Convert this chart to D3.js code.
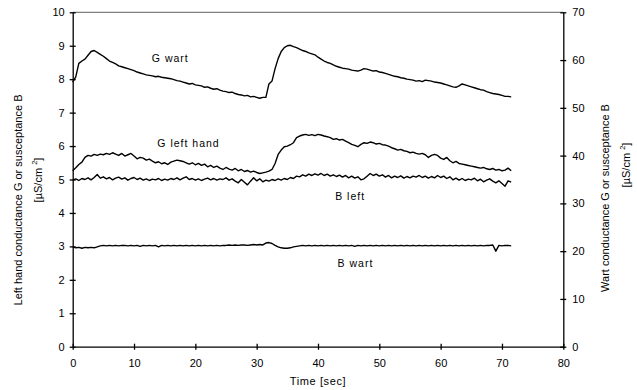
<!DOCTYPE html>
<html>
<head>
<meta charset="utf-8">
<script src="https://cdn.jsdelivr.net/npm/d3@7"></script>
<style>
  html, body { margin: 0; padding: 0; background: #fff; }
  svg { display: block; font-family: "Liberation Sans", Arial, sans-serif; }
</style>
</head>
<body>
<svg id="chart" width="637" height="390"></svg>
<script>
// ---- data (sampled every 0.5 s, starting at t = 0) ----
const sampleStep = 0.5;
const xTicks = [0, 10, 20, 30, 40, 50, 60, 70, 80];
const leftTicks = [0, 1, 2, 3, 4, 5, 6, 7, 8, 9, 10];
const rightTicks = [0, 10, 20, 30, 40, 50, 60, 70];

// left axis series [µS/cm²]
const gLeftHand = [
  5.26,5.35,5.45,5.52,5.66,5.72,5.70,5.75,5.72,5.76,
  5.74,5.78,5.75,5.80,5.76,5.72,5.78,5.70,5.74,5.78,
  5.70,5.62,5.66,5.64,5.58,5.61,5.55,5.50,5.53,5.47,
  5.50,5.45,5.52,5.55,5.58,5.56,5.54,5.50,5.46,5.50,
  5.44,5.48,5.42,5.46,5.38,5.42,5.36,5.40,5.34,5.30,
  5.36,5.31,5.28,5.33,5.26,5.30,5.24,5.27,5.22,5.25,
  5.21,5.18,5.20,5.22,5.25,5.30,5.48,5.75,5.88,5.98,
  6.00,6.04,6.10,6.25,6.30,6.33,6.35,6.32,6.34,6.31,
  6.35,6.33,6.30,6.28,6.25,6.20,6.22,6.18,6.20,6.15,
  6.10,6.05,6.02,5.98,6.05,6.10,6.08,6.12,6.10,6.06,
  6.08,6.04,6.03,6.00,5.95,5.92,5.88,5.90,5.86,5.84,
  5.80,5.82,5.78,5.76,5.78,5.74,5.66,5.72,5.75,5.72,
  5.64,5.60,5.66,5.56,5.50,5.54,5.48,5.46,5.44,5.42,
  5.40,5.38,5.36,5.34,5.36,5.32,5.30,5.33,5.28,5.30,
  5.26,5.28,5.34,5.26
];
const bLeft = [
  4.98,5.02,4.97,5.03,5.00,5.05,4.99,5.06,5.15,5.04,
  5.08,5.02,5.06,4.99,5.04,5.07,5.01,5.05,4.98,5.03,
  5.06,5.00,5.04,4.98,5.02,4.97,5.01,4.99,5.03,4.97,
  5.01,4.98,5.03,5.00,5.05,4.99,5.04,5.08,5.00,5.03,
  4.98,5.02,4.97,5.01,5.04,4.99,5.03,4.98,5.02,5.00,
  5.05,4.98,5.02,4.95,4.90,5.00,4.92,4.84,4.95,5.05,
  4.96,5.02,4.93,4.98,4.95,5.00,4.97,5.02,4.98,5.03,
  5.00,5.06,5.03,5.10,5.08,5.14,5.10,5.16,5.12,5.17,
  5.13,5.18,5.12,5.16,5.10,5.14,5.09,5.13,5.07,5.12,
  5.05,5.10,5.04,5.08,4.99,5.02,5.10,5.18,5.12,5.16,
  5.10,5.14,5.07,5.12,5.05,5.10,5.06,5.11,5.04,5.09,
  5.05,5.10,5.07,5.12,5.06,5.10,5.04,5.09,5.05,5.12,
  5.06,5.10,5.03,5.08,4.99,5.04,4.98,5.03,4.97,5.01,
  4.99,5.04,4.96,5.01,4.93,4.98,5.02,4.95,4.90,4.96,
  4.88,4.80,4.96,4.92
];
// right axis series (wart) [µS/cm²]
const gWart = [
  55.4,56.5,59.3,59.8,60.2,61.0,61.8,62.0,61.6,61.2,
  60.8,60.3,59.8,59.5,59.2,58.8,58.6,58.4,58.2,58.0,
  57.8,57.5,57.3,57.1,56.9,56.8,56.7,56.5,56.6,56.4,
  56.3,56.2,56.1,55.9,55.7,55.6,55.4,55.2,55.0,55.1,
  54.8,54.7,54.6,54.3,54.4,54.1,53.9,54.0,53.7,53.5,
  53.4,53.2,53.3,53.0,52.8,52.7,52.5,52.6,52.3,52.4,
  52.2,52.0,52.2,52.2,55.0,55.6,58.2,60.3,61.8,62.6,
  63.0,63.1,62.8,62.6,62.3,62.0,61.8,61.5,61.3,61.1,
  60.6,60.2,59.8,59.5,59.3,59.0,58.7,58.5,58.3,58.2,
  58.1,57.9,57.8,57.7,57.9,58.2,58.1,57.9,57.7,57.8,
  57.5,57.4,57.2,57.0,56.8,56.6,56.5,56.3,56.2,56.0,
  55.9,55.8,55.6,55.7,55.5,55.8,55.7,55.6,55.4,55.3,
  55.2,55.0,54.8,54.6,54.4,54.3,54.6,55.0,54.8,54.6,
  54.4,54.2,54.0,53.8,53.7,53.4,53.2,53.0,52.9,52.8,
  52.6,52.4,52.4,52.3
];
const bWart = [
  20.9,20.7,20.8,20.6,20.8,20.7,20.8,20.7,20.9,21.1,
  21.2,21.1,21.2,21.1,21.2,21.1,21.2,21.2,21.1,21.2,
  21.1,21.2,21.0,21.2,21.1,21.2,21.1,21.2,20.9,21.2,
  21.1,21.2,21.1,21.2,21.1,21.2,21.1,21.2,21.1,21.2,
  21.1,21.2,21.1,21.2,21.1,21.2,21.1,21.2,21.1,21.2,
  21.2,21.3,21.2,21.3,21.2,21.3,21.3,21.2,21.3,21.4,
  21.3,21.4,21.3,21.7,21.8,21.6,21.2,20.9,20.7,20.6,
  20.6,20.7,20.9,21.0,21.1,21.2,21.1,21.2,21.1,21.2,
  21.1,21.2,21.1,21.2,21.1,21.2,21.1,21.2,21.1,21.2,
  21.1,21.2,21.0,21.2,21.1,21.2,21.1,21.2,21.1,21.2,
  21.1,21.2,21.1,21.2,21.1,21.2,21.1,21.2,21.1,21.2,
  21.1,21.2,21.1,21.2,21.1,21.2,21.1,21.2,21.1,21.2,
  21.1,21.2,21.1,21.2,21.1,21.2,21.1,21.2,21.1,21.2,
  21.1,21.2,21.1,21.2,21.1,21.2,21.2,21.3,20.0,21.2,
  21.1,21.2,21.2,21.1
];

const seriesLabels = [
  { text: "G wart", t: 12.9, axis: "L", v: 8.5 },
  { text: "G left hand", t: 13.8, axis: "L", v: 5.98 },
  { text: "B left", t: 42.8, axis: "L", v: 4.4 },
  { text: "B wart", t: 43.2, axis: "L", v: 2.38 }
];

// ---- layout ----
const svg = d3.select("#chart");
const plot = { left: 72.7, right: 563.3, top: 12.3, bottom: 346.7 };
const x = d3.scaleLinear().domain([0, 80]).range([plot.left, plot.right]);
const yL = d3.scaleLinear().domain([0, 10]).range([plot.bottom, plot.top]);
const yR = d3.scaleLinear().domain([0, 70]).range([plot.bottom, plot.top]);
const fontSize = 11;

// top border (grey)
svg.append("line")
  .attr("x1", plot.left).attr("x2", plot.right)
  .attr("y1", plot.top).attr("y2", plot.top)
  .attr("stroke", "#808080").attr("stroke-width", 1.3);

function styleAxis(g, crossDir) {
  g.select(".domain").attr("stroke", "#000").attr("stroke-width", 1.3);
  g.selectAll(".tick line").attr("stroke", "#000").attr("stroke-width", 1.3);
  g.selectAll(".tick text").attr("fill", "#000").attr("font-size", fontSize)
    .attr("font-family", "Liberation Sans, Arial, sans-serif");
}

const axL = svg.append("g").attr("transform", `translate(${plot.left},0)`)
  .call(d3.axisLeft(yL).tickValues(leftTicks).tickSizeInner(3).tickSizeOuter(0).tickPadding(5).tickFormat(d3.format("d")));
axL.selectAll(".tick line").attr("x1", 3);
styleAxis(axL);

const axR = svg.append("g").attr("transform", `translate(${plot.right},0)`)
  .call(d3.axisRight(yR).tickValues(rightTicks).tickSizeInner(3).tickSizeOuter(0).tickPadding(6).tickFormat(d3.format("d")));
axR.selectAll(".tick line").attr("x1", -3);
styleAxis(axR);

const axB = svg.append("g").attr("transform", `translate(0,${plot.bottom})`)
  .call(d3.axisBottom(x).tickValues(xTicks).tickSizeInner(3).tickSizeOuter(0).tickPadding(10).tickFormat(d3.format("d")));
axB.selectAll(".tick line").attr("y1", -3);
styleAxis(axB);

// ---- series ----
const lineL = d3.line().x((d, i) => x(i * sampleStep)).y(d => yL(d));
const lineR = d3.line().x((d, i) => x(i * sampleStep)).y(d => yR(d));
[[gWart, lineR], [gLeftHand, lineL], [bLeft, lineL], [bWart, lineR]].forEach(([data, gen]) => {
  svg.append("path").datum(data)
    .attr("d", gen)
    .attr("fill", "none")
    .attr("stroke", "#000")
    .attr("stroke-width", 1.4)
    .attr("stroke-linejoin", "round");
});

// ---- series labels ----
seriesLabels.forEach(l => {
  svg.append("text")
    .attr("x", x(l.t)).attr("y", yL(l.v))
    .attr("font-size", 10.5)
    .attr("letter-spacing", 1)
    .attr("fill", "#000")
    .text(l.text);
});

// ---- axis titles ----
svg.append("text")
  .attr("x", (plot.left + plot.right) / 2).attr("y", 385)
  .attr("text-anchor", "middle").attr("font-size", fontSize)
  .attr("letter-spacing", 0.6)
  .text("Time [sec]");

function unitLabel(g, cx, cy) {
  const t = g.append("text")
    .attr("transform", `translate(${cx},${cy}) rotate(-90)`)
    .attr("text-anchor", "middle").attr("dominant-baseline", "central")
    .attr("font-size", fontSize);
  t.append("tspan").text("[µS/cm ");
  t.append("tspan").attr("font-size", 7.5).attr("dy", -4).text("2");
  t.append("tspan").attr("dy", 4).text("]");
}

svg.append("text")
  .attr("transform", `translate(18,200) rotate(-90)`)
  .attr("text-anchor", "middle").attr("dominant-baseline", "central")
  .attr("font-size", fontSize)
  .text("Left hand conductance G or susceptance B");
unitLabel(svg, 38, 180);

svg.append("text")
  .attr("transform", `translate(605,198) rotate(-90)`)
  .attr("text-anchor", "middle").attr("dominant-baseline", "central")
  .attr("font-size", fontSize)
  .text("Wart conductance G or susceptance B");
unitLabel(svg, 626, 165);
</script>
</body>
</html>
